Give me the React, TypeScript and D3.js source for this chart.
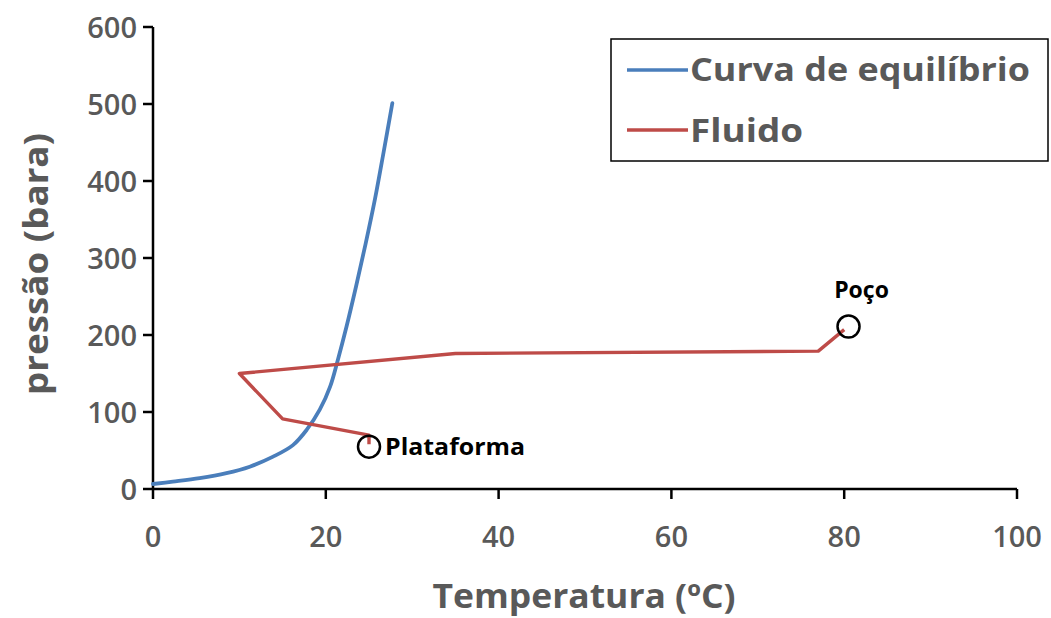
import React from "react";
import * as d3 from "d3";

const equilibriumT = [0, 2.3, 5.4, 8.5, 11.2, 13.9, 16.2, 17.8, 19.3, 20.5, 21.4, 22.4, 23.5, 24.6, 25.7, 26.7, 27.7];
const equilibriumP = [6.5, 9.5, 14, 20.5, 29, 42, 57, 77, 103, 133, 168, 211, 263, 318, 377, 438, 501];

const fluidT = [25, 25, 15, 10, 35, 77, 80];
const fluidP = [58, 70, 91, 150, 176, 179, 207];

const xTicks = [0, 20, 40, 60, 80, 100];
const yTicks = [0, 100, 200, 300, 400, 500, 600];

const markers = [
  { label: "Plataforma", t: 25, p: 55 },
  { label: "Poço", t: 80.5, p: 211 },
];

const W = 1051;
const H = 618;
const FONT = "'Open Sans', 'DejaVu Sans', sans-serif";
const GREY = "#595959";
const BLUE = "#4A7EBB";
const RED = "#BE4B48";

export default function App() {
  const x = d3.scaleLinear().domain([0, 100]).range([153, 1017]);
  const y = d3.scaleLinear().domain([0, 600]).range([489, 27]);

  const line = d3
    .line<[number, number]>()
    .x((d) => x(d[0]))
    .y((d) => y(d[1]));

  const eq: [number, number][] = equilibriumT.map((t, i) => [t, equilibriumP[i]]);
  const fl: [number, number][] = fluidT.map((t, i) => [t, fluidP[i]]);
  const eqPath = d3
    .line<[number, number]>()
    .x((d) => x(d[0]))
    .y((d) => y(d[1]))
    .curve(d3.curveCatmullRom.alpha(0.5))(eq) || "";

  return (
    <svg
      width={W}
      height={H}
      style={{ position: "absolute", left: 0, top: 0, background: "#fff" }}
    >
      <rect x={0} y={0} width={W} height={H} fill="#fff" />
      {/* axes */}
      <line x1={x(0)} x2={x(100)} y1={y(0)} y2={y(0)} stroke="#000" strokeWidth={2.5} />
      <line x1={x(0)} x2={x(0)} y1={y(0)} y2={y(600)} stroke="#000" strokeWidth={2.5} />
      {xTicks.map((t) => (
        <g key={"xt" + t}>
          <line x1={x(t)} x2={x(t)} y1={y(0)} y2={y(0) + 10} stroke="#000" strokeWidth={2.5} />
          <text
            x={x(t)}
            y={547}
            textAnchor="middle"
            fontFamily={FONT}
            fontWeight={600}
            fontSize={29}
            fill={GREY}
          >
            {t}
          </text>
        </g>
      ))}
      {yTicks.map((p) => (
        <g key={"yt" + p}>
          <line x1={x(0) - 10} x2={x(0)} y1={y(p)} y2={y(p)} stroke="#000" strokeWidth={2.5} />
          <text
            x={137}
            y={y(p) + 11}
            textAnchor="end"
            fontFamily={FONT}
            fontWeight={600}
            fontSize={29}
            fill={GREY}
          >
            {p}
          </text>
        </g>
      ))}
      {/* axis titles */}
      <text
        x={584}
        y={608}
        textAnchor="middle"
        fontFamily={FONT}
        fontWeight={700}
        fontSize={34}
        fill={GREY}
        textLength={303}
        lengthAdjust="spacingAndGlyphs"
      >
        Temperatura (ºC)
      </text>
      <text
        transform={`translate(48,264) rotate(-90)`}
        textAnchor="middle"
        fontFamily={FONT}
        fontWeight={700}
        fontSize={34}
        fill={GREY}
        textLength={262}
        lengthAdjust="spacingAndGlyphs"
      >
        pressão (bara)
      </text>

      {/* series */}
      <path d={eqPath} fill="none" stroke={BLUE} strokeWidth={3.8} strokeLinejoin="round" strokeLinecap="round" />
      <path d={line(fl) || ""} fill="none" stroke={RED} strokeWidth={3.4} strokeLinejoin="round" />

      {/* markers */}
      {markers.map((m) => (
        <circle key={m.label} cx={x(m.t)} cy={y(m.p)} r={11} fill="none" stroke="#000" strokeWidth={2.5} />
      ))}
      <text
        x={x(markers[0].t) + 16}
        y={y(markers[0].p) + 8}
        fontFamily={FONT}
        fontWeight={700}
        fontSize={23}
        fill="#000"
        textLength={140}
        lengthAdjust="spacingAndGlyphs"
      >
        {markers[0].label}
      </text>
      <text
        x={x(markers[1].t) + 13}
        y={298}
        textAnchor="middle"
        fontFamily={FONT}
        fontWeight={700}
        fontSize={23}
        fill="#000"
      >
        {markers[1].label}
      </text>

      {/* legend */}
      <rect x={611} y={39} width={437} height={122} fill="#fff" stroke="#000" strokeWidth={1.5} />
      <line x1={627} x2={688} y1={70} y2={70} stroke={BLUE} strokeWidth={3.5} />
      <line x1={627} x2={688} y1={130} y2={130} stroke={RED} strokeWidth={3.5} />
      <text
        x={690}
        y={81}
        fontFamily={FONT}
        fontWeight={700}
        fontSize={33}
        fill={GREY}
        textLength={340}
        lengthAdjust="spacingAndGlyphs"
      >
        Curva de equilíbrio
      </text>
      <text
        x={690}
        y={142}
        fontFamily={FONT}
        fontWeight={700}
        fontSize={33}
        fill={GREY}
        textLength={113}
        lengthAdjust="spacingAndGlyphs"
      >
        Fluido
      </text>
    </svg>
  );
}
